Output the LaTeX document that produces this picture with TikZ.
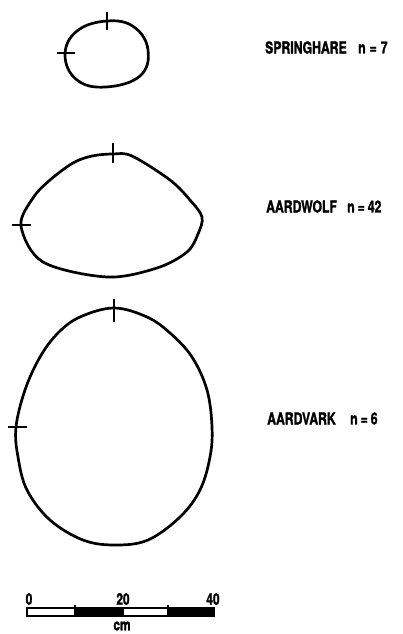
\documentclass[tikz,border=0pt]{standalone}
\usepackage{fontspec}
\newfontfamily\labfont[FakeStretch=0.74, BoldFeatures={FakeBold=1.5}]{TeX Gyre Heros}
\begin{document}
\begin{tikzpicture}[x=1pt,y=-1pt,
  outline/.style={line width=2.7pt, line join=round},
  tickmark/.style={line width=1.8pt},
  lab/.style={font=\labfont\bfseries\fontsize{16.5}{17}\selectfont, inner sep=0pt, anchor=west},
  barlab/.style={font=\labfont\bfseries\fontsize{16}{17}\selectfont, inner sep=0pt},
  barpart/.style={line width=1.2pt}]
\useasboundingbox[fill=white] (0,0) rectangle (403,634);

% Springhare
\draw[outline] plot[smooth cycle, tension=0.7] coordinates {
  (107,21) (134,27) (148,50) (140,76) (106,87) (77,80) (65,55) (77,31)};
\draw[tickmark] (107,12) -- (107,30);
\draw[tickmark] (57,53) -- (75,53);

% Aardwolf
\draw[outline] plot[smooth cycle, tension=0.55] coordinates {
  (113,154) (132,156) (170,180) (190,200) (202,217) (198,234) (187,252)
  (157,268) (107,277) (43,262) (21,226) (33,198) (50,180) (73,163) (92,156)};
\draw[tickmark] (113,143) -- (113,163);
\draw[tickmark] (12,225) -- (31,225);

% Aardvark
\draw[outline] plot[smooth cycle, tension=0.6] coordinates {
  (114,308) (147,317) (170,333) (192,357) (207,390) (212,427) (210,457)
  (200,490) (180,517) (148,540) (115,545) (83,540) (50,520) (27,490)
  (18,457) (16,427) (25,390) (40,357) (58,333) (80,317)};
\draw[tickmark] (114,299) -- (114,322);
\draw[tickmark] (8,427) -- (27,427);

% Labels
\node[lab] (sp) at (265,47.5) {SPRINGHARE};
\node[lab] (spn) at (358,47.5) {n\hspace{4pt}=\hspace{4pt}7};
\node[lab] (aw) at (266,206.5) {AARDWOLF};
\node[lab] (awn) at (347,206.5) {n\hspace{3pt}=\hspace{3pt}42};
\node[lab] (av) at (267,418.5) {AARDVARK};
\node[lab] (avn) at (350,418.5) {n\hspace{3pt}=\hspace{3pt}6};

% Scale bar
\draw[barpart] (27,608) rectangle (75,616);
\draw[barpart, fill=black] (75,608) rectangle (123,616);
\draw[barpart] (123,608) rectangle (168,616);
\draw[barpart, fill=black] (168,608) rectangle (214,616);
\draw[barpart] (75,605) -- (75,608);
\draw[barpart] (168,605) -- (168,608);
\node[barlab] (z) at (29,599) {0};
\node[barlab] (t) at (123,599) {20};
\node[barlab] (f) at (213,599) {40};
\node[barlab] (cm) at (122,626) {cm};
\end{tikzpicture}
\end{document}
